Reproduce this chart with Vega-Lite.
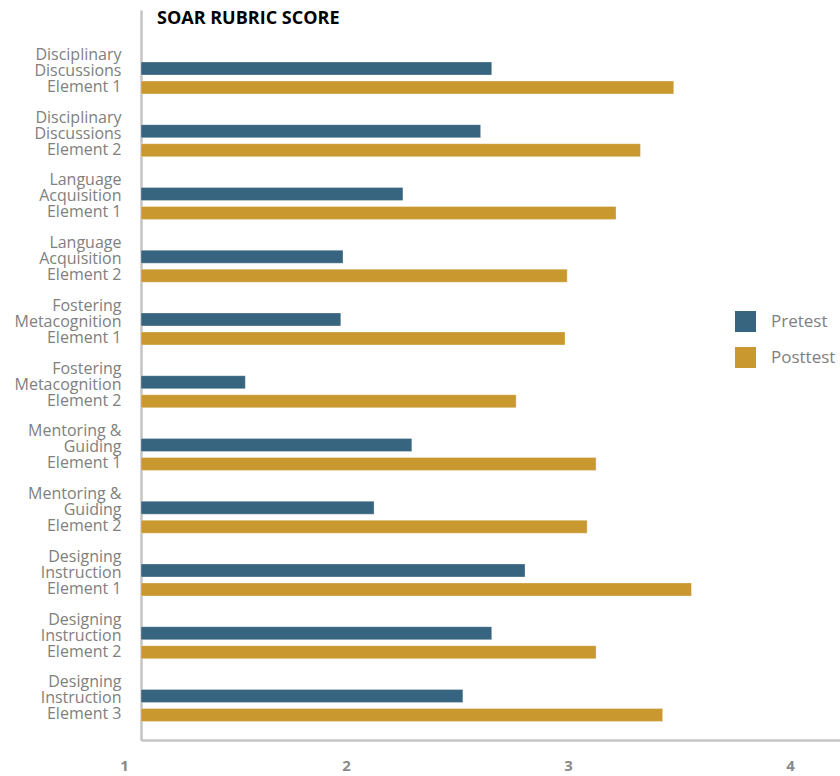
{
  "$schema": "https://vega.github.io/schema/vega-lite/v6.json",
  "autosize": {"type": "none"},
  "padding": {"left": 141, "top": 10, "right": 0, "bottom": 36},
  "width": 699,
  "height": 730,
  "config": {"view": {"stroke": null}, "font": "Open Sans"},
  "title": {"text": "SOAR RUBRIC SCORE", "anchor": "start", "frame": "group", "dx": 16, "offset": -18, "fontSize": 18, "fontWeight": "bold", "color": "#000000", "font": "Open Sans"},
  "data": {"values": [
    {"item": "Disciplinary Discussions Element 1", "test": "Pretest", "score": 2.58},
    {"item": "Disciplinary Discussions Element 1", "test": "Posttest", "score": 3.40},
    {"item": "Disciplinary Discussions Element 2", "test": "Pretest", "score": 2.53},
    {"item": "Disciplinary Discussions Element 2", "test": "Posttest", "score": 3.25},
    {"item": "Language Acquisition Element 1", "test": "Pretest", "score": 2.18},
    {"item": "Language Acquisition Element 1", "test": "Posttest", "score": 3.14},
    {"item": "Language Acquisition Element 2", "test": "Pretest", "score": 1.91},
    {"item": "Language Acquisition Element 2", "test": "Posttest", "score": 2.92},
    {"item": "Fostering Metacognition Element 1", "test": "Pretest", "score": 1.90},
    {"item": "Fostering Metacognition Element 1", "test": "Posttest", "score": 2.91},
    {"item": "Fostering Metacognition Element 2", "test": "Pretest", "score": 1.47},
    {"item": "Fostering Metacognition Element 2", "test": "Posttest", "score": 2.69},
    {"item": "Mentoring & Guiding Element 1", "test": "Pretest", "score": 2.22},
    {"item": "Mentoring & Guiding Element 1", "test": "Posttest", "score": 3.05},
    {"item": "Mentoring & Guiding Element 2", "test": "Pretest", "score": 2.05},
    {"item": "Mentoring & Guiding Element 2", "test": "Posttest", "score": 3.01},
    {"item": "Designing Instruction Element 1", "test": "Pretest", "score": 2.73},
    {"item": "Designing Instruction Element 1", "test": "Posttest", "score": 3.48},
    {"item": "Designing Instruction Element 2", "test": "Pretest", "score": 2.58},
    {"item": "Designing Instruction Element 2", "test": "Posttest", "score": 3.05},
    {"item": "Designing Instruction Element 3", "test": "Pretest", "score": 2.45},
    {"item": "Designing Instruction Element 3", "test": "Posttest", "score": 3.35}
  ]},
  "mark": {"type": "bar", "stroke": "#ffffff", "strokeWidth": 0.5, "strokeOpacity": 0.6},
  "encoding": {
    "y": {
      "field": "item", "type": "nominal", "sort": null,
      "scale": {"paddingInner": 0, "paddingOuter": 0.317, "align": 0.92},
      "axis": {
        "title": null, "ticks": false, "domainColor": "#c4c4c4", "domainWidth": 2.5,
        "labelExpr": "split(replace(datum.label, / (?=[A-Z])/g, '|'), '|')",
        "labelFontSize": 16, "labelColor": "#808080", "labelLineHeight": 16,
        "labelPadding": 20, "labelLimit": 200, "labelOffset": -23
      }
    },
    "yOffset": {
      "field": "test", "type": "nominal", "sort": ["Pretest", "Posttest"],
      "scale": {"paddingInner": 0.316, "paddingOuter": 0.81}
    },
    "x": {
      "field": "score", "type": "quantitative",
      "scale": {"domain": [1, 4.149], "zero": false},
      "axis": {
        "title": null, "values": [1, 2, 3, 4], "ticks": false, "grid": false,
        "domainColor": "#c4c4c4", "domainWidth": 2.5,
        "labelFontSize": 15, "labelFontWeight": "bold", "labelColor": "#8a8a8a",
        "labelPadding": 18, "labelOffset": -17, "labelFlush": false
      }
    },
    "x2": {"datum": 1},
    "color": {
      "field": "test", "type": "nominal", "sort": ["Pretest", "Posttest"],
      "scale": {"domain": ["Pretest", "Posttest"], "range": ["#37647f", "#c9992f"]},
      "legend": {
        "title": null, "orient": "none", "legendX": 594, "legendY": 301,
        "symbolType": "square", "symbolSize": 441, "symbolStrokeWidth": 0,
        "symbolOpacity": 1, "rowPadding": 15, "labelOffset": 15,
        "labelFontSize": 17, "labelColor": "#808080"
      }
    }
  }
}
